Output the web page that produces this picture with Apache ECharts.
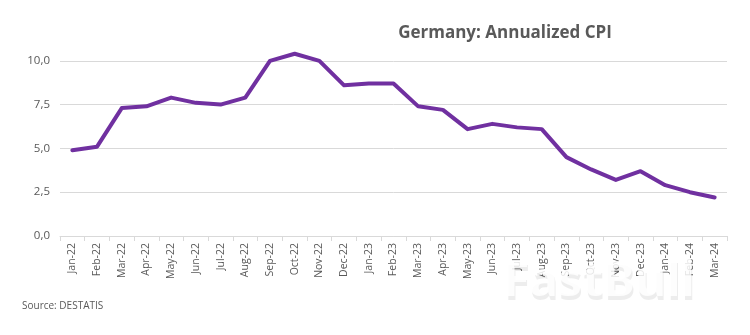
<!DOCTYPE html>
<html>
<head>
<meta charset="utf-8">
<script src="https://cdn.jsdelivr.net/npm/echarts@6/dist/echarts.min.js"></script>
<style>
  html, body { margin: 0; padding: 0; background: #fff; }
  #chart { width: 750px; height: 335px; }
</style>
</head>
<body>
<div id="chart"></div>
<script>
// Monthly categories, Jan 2022 – Mar 2024
const months = [
  'Jan-22','Feb-22','Mar-22','Apr-22','May-22','Jun-22','Jul-22','Aug-22','Sep-22','Oct-22','Nov-22','Dec-22',
  'Jan-23','Feb-23','Mar-23','Apr-23','May-23','Jun-23','Jul-23','Aug-23','Sep-23','Oct-23','Nov-23','Dec-23',
  'Jan-24','Feb-24','Mar-24'
];

// Year-on-year CPI, percent
const cpi = [
  4.9, 5.1, 7.3, 7.4, 7.9, 7.6, 7.5, 7.9, 10.0, 10.4, 10.0, 8.6,
  8.7, 8.7, 7.4, 7.2, 6.1, 6.4, 6.2, 6.1, 4.5, 3.8, 3.2, 3.7,
  2.9, 2.5, 2.2
];

// Value axis ticks
const yMin = 0;
const yMax = 12.5;
const yStep = 2.5;

const textGrey = '#595959';
const font = 'Open Sans';

const chart = echarts.init(document.getElementById('chart'), null, { renderer: 'canvas' });

chart.setOption({
  animation: false,
  backgroundColor: '#ffffff',
  title: {
    text: 'Germany: Annualized CPI',
    left: 500,
    textAlign: 'center',
    top: 20,
    textStyle: { color: textGrey, fontFamily: font, fontWeight: 'bold', fontSize: 17 }
  },
  grid: { left: 60, right: 23, top: 17, height: 219 },
  xAxis: {
    type: 'category',
    data: months,
    boundaryGap: true,
    axisLine: { show: true, lineStyle: { color: '#d9d9d9', width: 1 } },
    axisTick: { show: true, alignWithLabel: false, length: 5, lineStyle: { color: '#d9d9d9' } },
    axisLabel: {
      rotate: 90,
      interval: 0,
      margin: 7,
      color: textGrey,
      fontFamily: font,
      fontSize: 10.5
    }
  },
  yAxis: {
    type: 'value',
    min: yMin,
    max: yMax,
    interval: yStep,
    axisLine: { show: false },
    axisTick: { show: false },
    splitLine: { show: true, showMaxLine: false, lineStyle: { color: '#d9d9d9', width: 1 } },
    axisLabel: {
      showMaxLabel: false,
      margin: 10,
      color: textGrey,
      fontFamily: font,
      fontSize: 11.5,
      formatter: v => v.toFixed(1).replace('.', ',')
    }
  },
  series: [{
    type: 'line',
    data: cpi,
    symbol: 'none',
    smooth: false,
    lineStyle: { color: '#7030a0', width: 4, cap: 'round', join: 'round' }
  }],
  graphic: [
    {
      type: 'text',
      left: 22,
      top: 301,
      style: { text: 'Source: DESTATIS', fill: textGrey, font: '10px "Open Sans"' }
    },
    // watermark: soft grey drop layer under a white face
    {
      type: 'text',
      left: 504,
      top: 262,
      z: 99,
      style: {
        text: 'FastBull',
        fill: 'rgba(0,0,0,0.07)',
        font: 'bold 48px "Noto Sans"'
      }
    },
    {
      type: 'text',
      left: 503,
      top: 258,
      z: 100,
      style: {
        text: 'FastBull',
        fill: 'rgba(255,255,255,0.85)',
        font: 'bold 48px "Noto Sans"'
      }
    }
  ]
});
</script>
</body>
</html>
